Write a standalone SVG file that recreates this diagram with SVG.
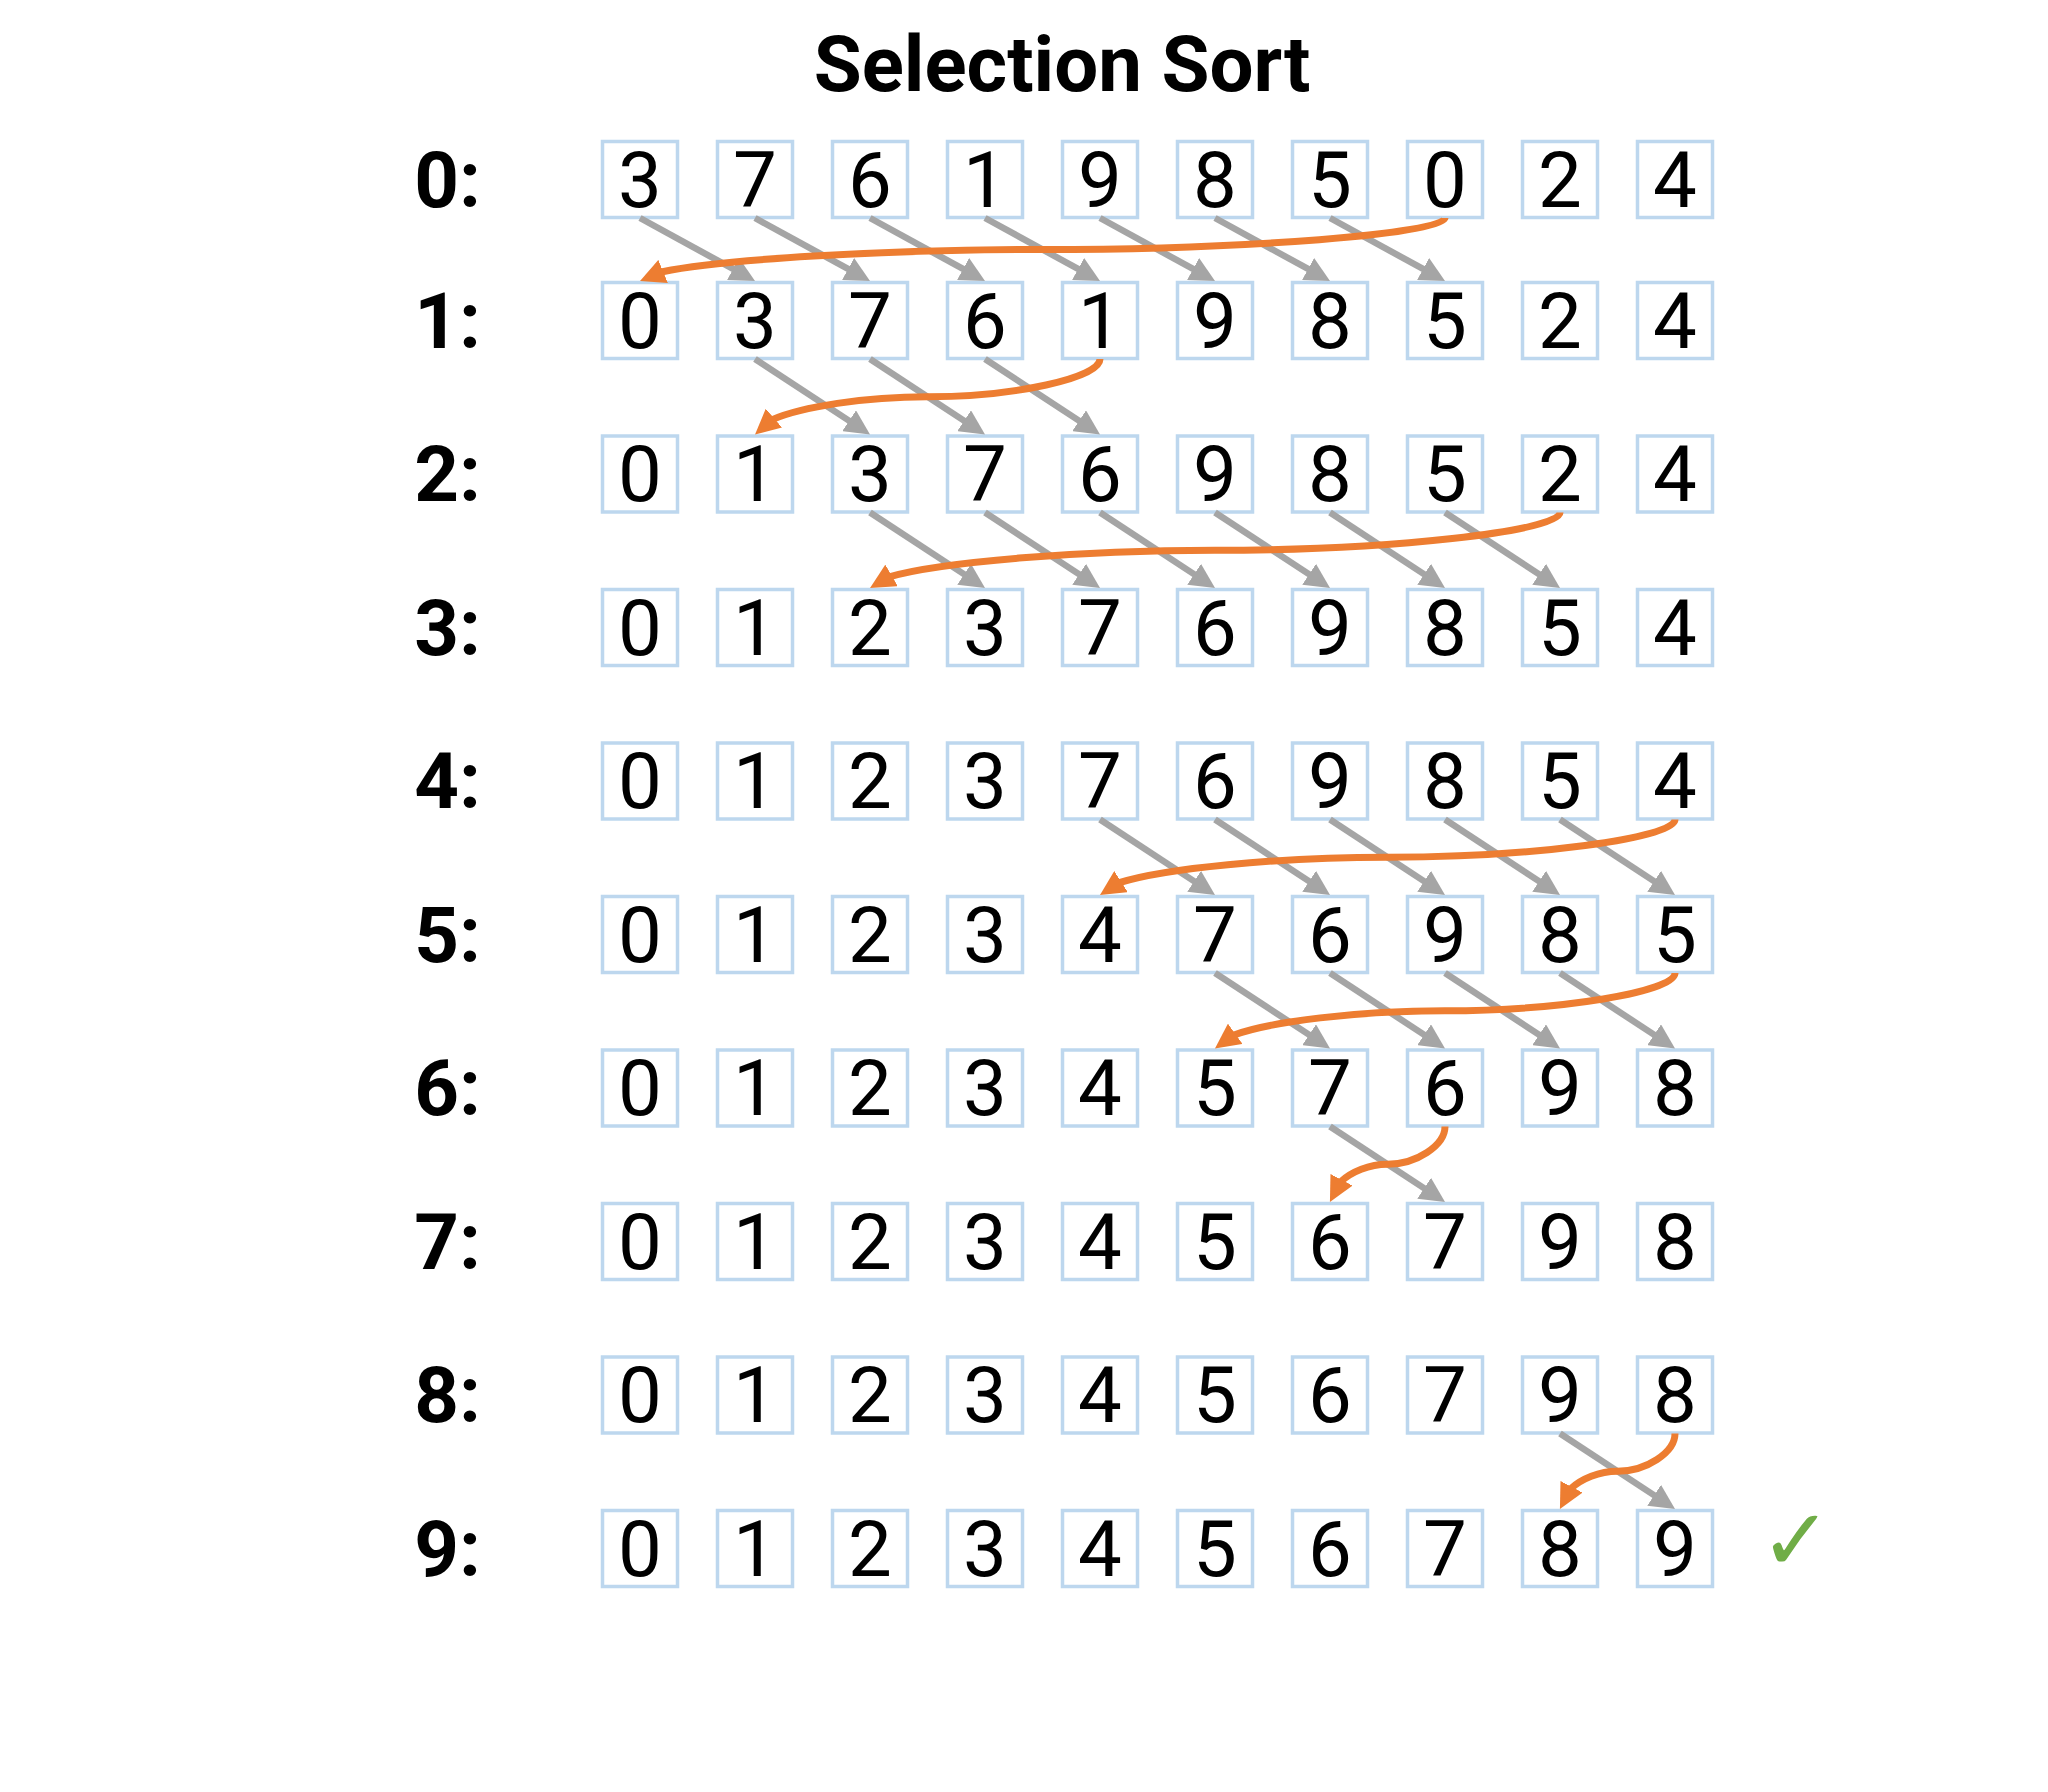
<svg xmlns="http://www.w3.org/2000/svg" width="2048" height="1792" viewBox="0 0 2048 1792">
<defs>
<style>
.bx{fill:#fff;stroke:#BDD7EE;stroke-width:3.5}
.d{font-family:Roboto,"Liberation Sans",sans-serif;font-size:78px;fill:#000;text-anchor:middle}
.lb{font-family:Roboto,"Liberation Sans",sans-serif;font-size:78px;font-weight:bold;fill:#000;text-anchor:end}
.ttl{font-family:Roboto,"Liberation Sans",sans-serif;font-size:78px;font-weight:bold;fill:#000;text-anchor:middle}
.g{fill:none;stroke:#A5A5A5;stroke-width:6.5;marker-end:url(#ag)}
.o{fill:none;stroke:#ED7D31;stroke-width:7;marker-end:url(#ao)}
</style>
<marker id="ag" markerUnits="userSpaceOnUse" markerWidth="25" markerHeight="25" viewBox="0 0 25 25" refX="13" refY="12.5" orient="auto"><path d="M0,0 L25,12.5 L0,25 Z" fill="#A5A5A5"/></marker>
<marker id="ao" markerUnits="userSpaceOnUse" markerWidth="25" markerHeight="25" viewBox="0 0 25 25" refX="13" refY="12.5" orient="auto"><path d="M0,0 L25,12.5 L0,25 Z" fill="#ED7D31"/></marker>
</defs>
<rect width="2048" height="1792" fill="#fff"/>
<text class="ttl" x="1062" y="91">Selection Sort</text>
<g id="labels">
<text class="lb" x="481" y="206.5">0:</text>
<text class="lb" x="481" y="347.5">1:</text>
<text class="lb" x="481" y="501">2:</text>
<text class="lb" x="481" y="654.5">3:</text>
<text class="lb" x="481" y="808">4:</text>
<text class="lb" x="481" y="961.5">5:</text>
<text class="lb" x="481" y="1115">6:</text>
<text class="lb" x="481" y="1268.5">7:</text>
<text class="lb" x="481" y="1422">8:</text>
<text class="lb" x="481" y="1575.5">9:</text>
</g>
<g id="row0">
<g id="n0-0"><rect class="bx" x="602.5" y="141.5" width="75" height="76"/><text class="d" x="640" y="206.5">3</text></g>
<g id="n0-1"><rect class="bx" x="717.5" y="141.5" width="75" height="76"/><text class="d" x="755" y="206.5">7</text></g>
<g id="n0-2"><rect class="bx" x="832.5" y="141.5" width="75" height="76"/><text class="d" x="870" y="206.5">6</text></g>
<g id="n0-3"><rect class="bx" x="947.5" y="141.5" width="75" height="76"/><text class="d" x="985" y="206.5">1</text></g>
<g id="n0-4"><rect class="bx" x="1062.5" y="141.5" width="75" height="76"/><text class="d" x="1100" y="206.5">9</text></g>
<g id="n0-5"><rect class="bx" x="1177.5" y="141.5" width="75" height="76"/><text class="d" x="1215" y="206.5">8</text></g>
<g id="n0-6"><rect class="bx" x="1292.5" y="141.5" width="75" height="76"/><text class="d" x="1330" y="206.5">5</text></g>
<g id="n0-7"><rect class="bx" x="1407.5" y="141.5" width="75" height="76"/><text class="d" x="1445" y="206.5">0</text></g>
<g id="n0-8"><rect class="bx" x="1522.5" y="141.5" width="75" height="76"/><text class="d" x="1560" y="206.5">2</text></g>
<g id="n0-9"><rect class="bx" x="1637.5" y="141.5" width="75" height="76"/><text class="d" x="1675" y="206.5">4</text></g>
</g>
<g id="row1">
<g id="n1-0"><rect class="bx" x="602.5" y="282.5" width="75" height="76"/><text class="d" x="640" y="347.5">0</text></g>
<g id="n1-1"><rect class="bx" x="717.5" y="282.5" width="75" height="76"/><text class="d" x="755" y="347.5">3</text></g>
<g id="n1-2"><rect class="bx" x="832.5" y="282.5" width="75" height="76"/><text class="d" x="870" y="347.5">7</text></g>
<g id="n1-3"><rect class="bx" x="947.5" y="282.5" width="75" height="76"/><text class="d" x="985" y="347.5">6</text></g>
<g id="n1-4"><rect class="bx" x="1062.5" y="282.5" width="75" height="76"/><text class="d" x="1100" y="347.5">1</text></g>
<g id="n1-5"><rect class="bx" x="1177.5" y="282.5" width="75" height="76"/><text class="d" x="1215" y="347.5">9</text></g>
<g id="n1-6"><rect class="bx" x="1292.5" y="282.5" width="75" height="76"/><text class="d" x="1330" y="347.5">8</text></g>
<g id="n1-7"><rect class="bx" x="1407.5" y="282.5" width="75" height="76"/><text class="d" x="1445" y="347.5">5</text></g>
<g id="n1-8"><rect class="bx" x="1522.5" y="282.5" width="75" height="76"/><text class="d" x="1560" y="347.5">2</text></g>
<g id="n1-9"><rect class="bx" x="1637.5" y="282.5" width="75" height="76"/><text class="d" x="1675" y="347.5">4</text></g>
</g>
<g id="row2">
<g id="n2-0"><rect class="bx" x="602.5" y="436" width="75" height="76"/><text class="d" x="640" y="501">0</text></g>
<g id="n2-1"><rect class="bx" x="717.5" y="436" width="75" height="76"/><text class="d" x="755" y="501">1</text></g>
<g id="n2-2"><rect class="bx" x="832.5" y="436" width="75" height="76"/><text class="d" x="870" y="501">3</text></g>
<g id="n2-3"><rect class="bx" x="947.5" y="436" width="75" height="76"/><text class="d" x="985" y="501">7</text></g>
<g id="n2-4"><rect class="bx" x="1062.5" y="436" width="75" height="76"/><text class="d" x="1100" y="501">6</text></g>
<g id="n2-5"><rect class="bx" x="1177.5" y="436" width="75" height="76"/><text class="d" x="1215" y="501">9</text></g>
<g id="n2-6"><rect class="bx" x="1292.5" y="436" width="75" height="76"/><text class="d" x="1330" y="501">8</text></g>
<g id="n2-7"><rect class="bx" x="1407.5" y="436" width="75" height="76"/><text class="d" x="1445" y="501">5</text></g>
<g id="n2-8"><rect class="bx" x="1522.5" y="436" width="75" height="76"/><text class="d" x="1560" y="501">2</text></g>
<g id="n2-9"><rect class="bx" x="1637.5" y="436" width="75" height="76"/><text class="d" x="1675" y="501">4</text></g>
</g>
<g id="row3">
<g id="n3-0"><rect class="bx" x="602.5" y="589.5" width="75" height="76"/><text class="d" x="640" y="654.5">0</text></g>
<g id="n3-1"><rect class="bx" x="717.5" y="589.5" width="75" height="76"/><text class="d" x="755" y="654.5">1</text></g>
<g id="n3-2"><rect class="bx" x="832.5" y="589.5" width="75" height="76"/><text class="d" x="870" y="654.5">2</text></g>
<g id="n3-3"><rect class="bx" x="947.5" y="589.5" width="75" height="76"/><text class="d" x="985" y="654.5">3</text></g>
<g id="n3-4"><rect class="bx" x="1062.5" y="589.5" width="75" height="76"/><text class="d" x="1100" y="654.5">7</text></g>
<g id="n3-5"><rect class="bx" x="1177.5" y="589.5" width="75" height="76"/><text class="d" x="1215" y="654.5">6</text></g>
<g id="n3-6"><rect class="bx" x="1292.5" y="589.5" width="75" height="76"/><text class="d" x="1330" y="654.5">9</text></g>
<g id="n3-7"><rect class="bx" x="1407.5" y="589.5" width="75" height="76"/><text class="d" x="1445" y="654.5">8</text></g>
<g id="n3-8"><rect class="bx" x="1522.5" y="589.5" width="75" height="76"/><text class="d" x="1560" y="654.5">5</text></g>
<g id="n3-9"><rect class="bx" x="1637.5" y="589.5" width="75" height="76"/><text class="d" x="1675" y="654.5">4</text></g>
</g>
<g id="row4">
<g id="n4-0"><rect class="bx" x="602.5" y="743" width="75" height="76"/><text class="d" x="640" y="808">0</text></g>
<g id="n4-1"><rect class="bx" x="717.5" y="743" width="75" height="76"/><text class="d" x="755" y="808">1</text></g>
<g id="n4-2"><rect class="bx" x="832.5" y="743" width="75" height="76"/><text class="d" x="870" y="808">2</text></g>
<g id="n4-3"><rect class="bx" x="947.5" y="743" width="75" height="76"/><text class="d" x="985" y="808">3</text></g>
<g id="n4-4"><rect class="bx" x="1062.5" y="743" width="75" height="76"/><text class="d" x="1100" y="808">7</text></g>
<g id="n4-5"><rect class="bx" x="1177.5" y="743" width="75" height="76"/><text class="d" x="1215" y="808">6</text></g>
<g id="n4-6"><rect class="bx" x="1292.5" y="743" width="75" height="76"/><text class="d" x="1330" y="808">9</text></g>
<g id="n4-7"><rect class="bx" x="1407.5" y="743" width="75" height="76"/><text class="d" x="1445" y="808">8</text></g>
<g id="n4-8"><rect class="bx" x="1522.5" y="743" width="75" height="76"/><text class="d" x="1560" y="808">5</text></g>
<g id="n4-9"><rect class="bx" x="1637.5" y="743" width="75" height="76"/><text class="d" x="1675" y="808">4</text></g>
</g>
<g id="row5">
<g id="n5-0"><rect class="bx" x="602.5" y="896.5" width="75" height="76"/><text class="d" x="640" y="961.5">0</text></g>
<g id="n5-1"><rect class="bx" x="717.5" y="896.5" width="75" height="76"/><text class="d" x="755" y="961.5">1</text></g>
<g id="n5-2"><rect class="bx" x="832.5" y="896.5" width="75" height="76"/><text class="d" x="870" y="961.5">2</text></g>
<g id="n5-3"><rect class="bx" x="947.5" y="896.5" width="75" height="76"/><text class="d" x="985" y="961.5">3</text></g>
<g id="n5-4"><rect class="bx" x="1062.5" y="896.5" width="75" height="76"/><text class="d" x="1100" y="961.5">4</text></g>
<g id="n5-5"><rect class="bx" x="1177.5" y="896.5" width="75" height="76"/><text class="d" x="1215" y="961.5">7</text></g>
<g id="n5-6"><rect class="bx" x="1292.5" y="896.5" width="75" height="76"/><text class="d" x="1330" y="961.5">6</text></g>
<g id="n5-7"><rect class="bx" x="1407.5" y="896.5" width="75" height="76"/><text class="d" x="1445" y="961.5">9</text></g>
<g id="n5-8"><rect class="bx" x="1522.5" y="896.5" width="75" height="76"/><text class="d" x="1560" y="961.5">8</text></g>
<g id="n5-9"><rect class="bx" x="1637.5" y="896.5" width="75" height="76"/><text class="d" x="1675" y="961.5">5</text></g>
</g>
<g id="row6">
<g id="n6-0"><rect class="bx" x="602.5" y="1050" width="75" height="76"/><text class="d" x="640" y="1115">0</text></g>
<g id="n6-1"><rect class="bx" x="717.5" y="1050" width="75" height="76"/><text class="d" x="755" y="1115">1</text></g>
<g id="n6-2"><rect class="bx" x="832.5" y="1050" width="75" height="76"/><text class="d" x="870" y="1115">2</text></g>
<g id="n6-3"><rect class="bx" x="947.5" y="1050" width="75" height="76"/><text class="d" x="985" y="1115">3</text></g>
<g id="n6-4"><rect class="bx" x="1062.5" y="1050" width="75" height="76"/><text class="d" x="1100" y="1115">4</text></g>
<g id="n6-5"><rect class="bx" x="1177.5" y="1050" width="75" height="76"/><text class="d" x="1215" y="1115">5</text></g>
<g id="n6-6"><rect class="bx" x="1292.5" y="1050" width="75" height="76"/><text class="d" x="1330" y="1115">7</text></g>
<g id="n6-7"><rect class="bx" x="1407.5" y="1050" width="75" height="76"/><text class="d" x="1445" y="1115">6</text></g>
<g id="n6-8"><rect class="bx" x="1522.5" y="1050" width="75" height="76"/><text class="d" x="1560" y="1115">9</text></g>
<g id="n6-9"><rect class="bx" x="1637.5" y="1050" width="75" height="76"/><text class="d" x="1675" y="1115">8</text></g>
</g>
<g id="row7">
<g id="n7-0"><rect class="bx" x="602.5" y="1203.5" width="75" height="76"/><text class="d" x="640" y="1268.5">0</text></g>
<g id="n7-1"><rect class="bx" x="717.5" y="1203.5" width="75" height="76"/><text class="d" x="755" y="1268.5">1</text></g>
<g id="n7-2"><rect class="bx" x="832.5" y="1203.5" width="75" height="76"/><text class="d" x="870" y="1268.5">2</text></g>
<g id="n7-3"><rect class="bx" x="947.5" y="1203.5" width="75" height="76"/><text class="d" x="985" y="1268.5">3</text></g>
<g id="n7-4"><rect class="bx" x="1062.5" y="1203.5" width="75" height="76"/><text class="d" x="1100" y="1268.5">4</text></g>
<g id="n7-5"><rect class="bx" x="1177.5" y="1203.5" width="75" height="76"/><text class="d" x="1215" y="1268.5">5</text></g>
<g id="n7-6"><rect class="bx" x="1292.5" y="1203.5" width="75" height="76"/><text class="d" x="1330" y="1268.5">6</text></g>
<g id="n7-7"><rect class="bx" x="1407.5" y="1203.5" width="75" height="76"/><text class="d" x="1445" y="1268.5">7</text></g>
<g id="n7-8"><rect class="bx" x="1522.5" y="1203.5" width="75" height="76"/><text class="d" x="1560" y="1268.5">9</text></g>
<g id="n7-9"><rect class="bx" x="1637.5" y="1203.5" width="75" height="76"/><text class="d" x="1675" y="1268.5">8</text></g>
</g>
<g id="row8">
<g id="n8-0"><rect class="bx" x="602.5" y="1357" width="75" height="76"/><text class="d" x="640" y="1422">0</text></g>
<g id="n8-1"><rect class="bx" x="717.5" y="1357" width="75" height="76"/><text class="d" x="755" y="1422">1</text></g>
<g id="n8-2"><rect class="bx" x="832.5" y="1357" width="75" height="76"/><text class="d" x="870" y="1422">2</text></g>
<g id="n8-3"><rect class="bx" x="947.5" y="1357" width="75" height="76"/><text class="d" x="985" y="1422">3</text></g>
<g id="n8-4"><rect class="bx" x="1062.5" y="1357" width="75" height="76"/><text class="d" x="1100" y="1422">4</text></g>
<g id="n8-5"><rect class="bx" x="1177.5" y="1357" width="75" height="76"/><text class="d" x="1215" y="1422">5</text></g>
<g id="n8-6"><rect class="bx" x="1292.5" y="1357" width="75" height="76"/><text class="d" x="1330" y="1422">6</text></g>
<g id="n8-7"><rect class="bx" x="1407.5" y="1357" width="75" height="76"/><text class="d" x="1445" y="1422">7</text></g>
<g id="n8-8"><rect class="bx" x="1522.5" y="1357" width="75" height="76"/><text class="d" x="1560" y="1422">9</text></g>
<g id="n8-9"><rect class="bx" x="1637.5" y="1357" width="75" height="76"/><text class="d" x="1675" y="1422">8</text></g>
</g>
<g id="row9">
<g id="n9-0"><rect class="bx" x="602.5" y="1510.5" width="75" height="76"/><text class="d" x="640" y="1575.5">0</text></g>
<g id="n9-1"><rect class="bx" x="717.5" y="1510.5" width="75" height="76"/><text class="d" x="755" y="1575.5">1</text></g>
<g id="n9-2"><rect class="bx" x="832.5" y="1510.5" width="75" height="76"/><text class="d" x="870" y="1575.5">2</text></g>
<g id="n9-3"><rect class="bx" x="947.5" y="1510.5" width="75" height="76"/><text class="d" x="985" y="1575.5">3</text></g>
<g id="n9-4"><rect class="bx" x="1062.5" y="1510.5" width="75" height="76"/><text class="d" x="1100" y="1575.5">4</text></g>
<g id="n9-5"><rect class="bx" x="1177.5" y="1510.5" width="75" height="76"/><text class="d" x="1215" y="1575.5">5</text></g>
<g id="n9-6"><rect class="bx" x="1292.5" y="1510.5" width="75" height="76"/><text class="d" x="1330" y="1575.5">6</text></g>
<g id="n9-7"><rect class="bx" x="1407.5" y="1510.5" width="75" height="76"/><text class="d" x="1445" y="1575.5">7</text></g>
<g id="n9-8"><rect class="bx" x="1522.5" y="1510.5" width="75" height="76"/><text class="d" x="1560" y="1575.5">8</text></g>
<g id="n9-9"><rect class="bx" x="1637.5" y="1510.5" width="75" height="76"/><text class="d" x="1675" y="1575.5">9</text></g>
</g>
<g id="check"><text x="1760" y="1570" font-family="'DejaVu Sans',sans-serif" font-size="86" font-weight="bold" fill="#70AD47">✓</text></g>
<g id="connectors">
<g id="shifts">
<path class="g" d="M640,218 L744.5,275.2"/>
<path class="g" d="M755,218 L859.5,275.2"/>
<path class="g" d="M870,218 L974.5,275.2"/>
<path class="g" d="M985,218 L1089.5,275.2"/>
<path class="g" d="M1100,218 L1204.5,275.2"/>
<path class="g" d="M1215,218 L1319.5,275.2"/>
<path class="g" d="M1330,218 L1434.5,275.2"/>
<path class="g" d="M755,359 L860,427.9"/>
<path class="g" d="M870,359 L975,427.9"/>
<path class="g" d="M985,359 L1090,427.9"/>
<path class="g" d="M870,512.5 L975,581.4"/>
<path class="g" d="M985,512.5 L1090,581.4"/>
<path class="g" d="M1100,512.5 L1205,581.4"/>
<path class="g" d="M1215,512.5 L1320,581.4"/>
<path class="g" d="M1330,512.5 L1435,581.4"/>
<path class="g" d="M1445,512.5 L1550,581.4"/>
<path class="g" d="M1100,819.5 L1205,888.4"/>
<path class="g" d="M1215,819.5 L1320,888.4"/>
<path class="g" d="M1330,819.5 L1435,888.4"/>
<path class="g" d="M1445,819.5 L1550,888.4"/>
<path class="g" d="M1560,819.5 L1665,888.4"/>
<path class="g" d="M1215,973 L1320,1041.9"/>
<path class="g" d="M1330,973 L1435,1041.9"/>
<path class="g" d="M1445,973 L1550,1041.9"/>
<path class="g" d="M1560,973 L1665,1041.9"/>
<path class="g" d="M1330,1126.5 L1435,1195.4"/>
<path class="g" d="M1560,1433.5 L1665,1502.4"/>
</g>
<g id="moves">
<path class="o" d="M1445,218 C1445,233.75 1243.75,249.5 1042.5,249.5 C881.5,249.5 720.5,259.6 662.5,271.7 L651.1,276.4"/>
<path class="o" d="M1100,359 C1100,377.9 1013.75,396.75 927.5,396.75 C864.5,396.75 801.6,406.8 772.2,419.6 L764.1,426.6"/>
<path class="o" d="M1560,512.5 C1560,531.4 1387.5,550.25 1215,550.25 C1077,550.25 939,562.3 889.3,576.8 L880.4,582"/>
<path class="o" d="M1675,819.5 C1675,838.4 1531.25,857.25 1387.5,857.25 C1275.4,857.25 1163.2,868.7 1119.3,882.7 L1110.1,888.6"/>
<path class="o" d="M1675,973 C1675,991.9 1560,1010.75 1445,1010.75 C1357.6,1010.75 1270.2,1021.6 1233.3,1035.2 L1224.7,1041.4"/>
<path class="o" d="M1445,1126.5 C1445,1145.4 1416.25,1164.25 1387.5,1164.25 C1369.4,1164.25 1351.3,1171.7 1340.4,1182 L1335.5,1191.3"/>
<path class="o" d="M1675,1433.5 C1675,1452.4 1646.25,1471.25 1617.5,1471.25 C1599.4,1471.25 1581.3,1478.7 1570.4,1489 L1565.5,1498.3"/>
</g>
</g>
</svg>
